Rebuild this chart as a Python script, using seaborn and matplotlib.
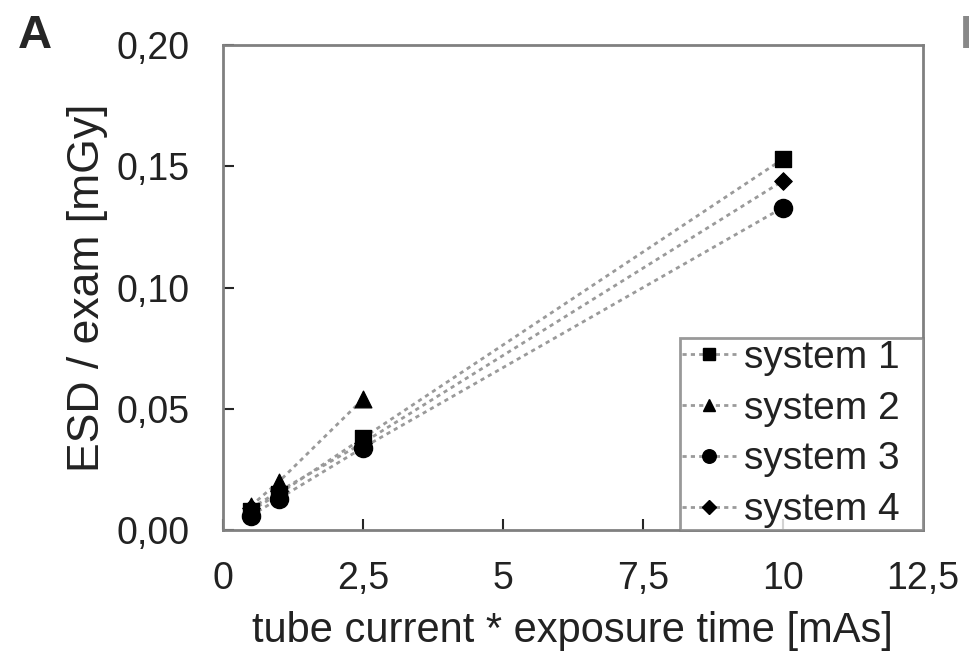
import numpy as np
import pandas as pd
import seaborn as sns
import matplotlib
matplotlib.use("Agg")
import matplotlib.pyplot as plt
from matplotlib.lines import Line2D

sns.set_theme(style="white")
plt.rcParams['font.family'] = ['Liberation Sans', 'DejaVu Sans']

mAs = [0.5, 1.0, 2.5, 10.0]
system1 = [0.008, 0.015, 0.038, 0.153]
system2 = [0.010, 0.020, 0.054]
system3 = [0.006, 0.013, 0.034, 0.133]
system4 = [0.009, 0.016, 0.036, 0.144]
names = ["system 1", "system 2", "system 3", "system 4"]
markers = ["s", "^", "o", "D"]
msizes = [12, 12, 13, 9]

xticks = [0, 2.5, 5, 7.5, 10, 12.5]
yticks = [0.00, 0.05, 0.10, 0.15, 0.20]

series = [system1, system2, system3, system4]
rows = []
for n, s in zip(names, series):
    for x, y in zip(mAs, s):
        rows.append({"mAs": x, "ESD": y, "system": n})
df = pd.DataFrame(rows)

fig = plt.figure(figsize=(9.69, 6.57), dpi=100)
ax = fig.add_axes([0.230, 0.193, 0.7225, 0.7385])

sns.lineplot(data=df, x="mAs", y="ESD", units="system", estimator=None,
             color="#9a9a9a", linestyle=(0, (1.5, 1.5)), linewidth=2.0,
             ax=ax, legend=False, sort=True)
for n, m, ms in zip(names, markers, msizes):
    sub = df[df.system == n]
    sns.scatterplot(data=sub, x="mAs", y="ESD", marker=m, s=ms**2,
                    color="black", edgecolor="black", ax=ax, legend=False,
                    zorder=5)

ax.set_xlim(0, 12.5)
ax.set_ylim(0, 0.20)
ax.set_xticks(xticks)
ax.set_yticks(yticks)
fmt = lambda v: (f"{v:g}").replace(".", ",")
ax.set_xticklabels([fmt(v) for v in xticks])
ax.set_yticklabels([f"{v:.2f}".replace(".", ",") for v in yticks])
ax.tick_params(direction="in", length=8, width=1.5, labelsize=27,
               labelcolor="#222222")
ax.tick_params(axis="x", pad=22)
ax.tick_params(axis="y", pad=24)
for t in ax.get_xticklines() + ax.get_yticklines():
    t.set_color("#808080")
ax.tick_params(bottom=True, left=True)
for sp in ax.spines.values():
    sp.set_color("#808080")
    sp.set_linewidth(2)
ax.set_xlabel("tube current * exposure time [mAs]", fontsize=30, color="#222222", labelpad=10)
ax.set_ylabel("ESD / exam [mGy]", fontsize=32, color="#222222", labelpad=6)

handles = [Line2D([], [], color="#9a9a9a", linestyle=(0, (1.5, 1.5)), linewidth=2,
                  marker=m, markersize=ms * 0.75, markerfacecolor="black",
                  markeredgecolor="black") for m, ms in zip(markers, msizes)]
leg_labels = [n + "  " for n in names]
leg = ax.legend(handles, leg_labels, loc="lower right", bbox_to_anchor=(1.0, 0.0),
                fontsize=28, frameon=True, fancybox=False, handlelength=1.4,
                handletextpad=0.2, borderpad=0.05, labelspacing=0.38,
                borderaxespad=0.0)
leg.get_frame().set_edgecolor("#808080")
leg.get_frame().set_linewidth(2)
for t in leg.get_texts():
    t.set_color("#222222")

fig.text(35 / 969, 1 - 36 / 657, "A", fontsize=34, fontweight="bold", va="center", ha="center")
fig.text(960 / 969, 1 - 36 / 657, "B", fontsize=34, fontweight="bold", va="center", ha="left", color="#888888")

fig.savefig("out.png", dpi=100)
